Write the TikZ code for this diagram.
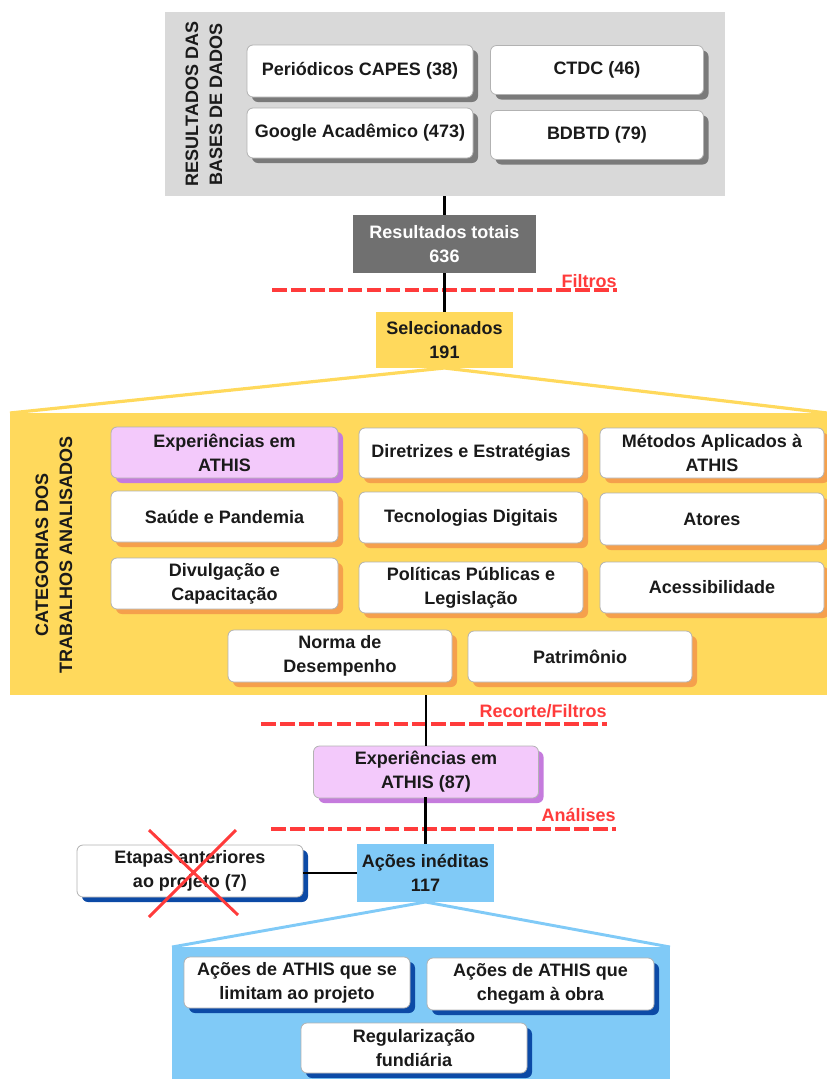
\documentclass[tikz,border=0pt]{standalone}
\usepackage{fontspec}
\setmainfont{Liberation Sans}
\usetikzlibrary{shadows}
\definecolor{txt}{HTML}{1A1A1A}
\definecolor{dbgray}{HTML}{D9D9D9}
\definecolor{shgray}{HTML}{7A7A7A}
\definecolor{resgray}{HTML}{707070}
\definecolor{yel}{HTML}{FFD95C}
\definecolor{orsh}{HTML}{F5A04C}
\definecolor{purf}{HTML}{F3C9FB}
\definecolor{pursh}{HTML}{C57BDD}
\definecolor{lblue}{HTML}{80CAF7}
\definecolor{dblue}{HTML}{0C4AA6}
\definecolor{redl}{HTML}{FF3B3B}
\begin{document}
\begin{tikzpicture}[x=0.75pt,y=-0.75pt,
  font=\fontsize{13.5}{18}\selectfont\bfseries,
  sz/.style 2 args={minimum width=#1*0.75pt, minimum height=#2*0.75pt},
  wbox/.style={draw=black!30, line width=0.6pt, fill=white, rounded corners=4.5pt,
    align=center, inner sep=1pt, text=txt},
  shad/.style={drop shadow={shadow xshift=3.75pt, shadow yshift=-3.75pt, fill=#1, opacity=1}},
  dbbox/.style={wbox, shad=shgray},
  catbox/.style={wbox, shad=orsh},
  purbox/.style={wbox, fill=purf, shad=pursh},
  bluebox/.style={wbox, shad=dblue},
  panel/.style={inner sep=0pt, outer sep=0pt},
  flat/.style={panel, align=center},
  conn/.style={line width=1.9pt, black},
  cut/.style={redl, line width=2.3pt, dash pattern=on 11pt off 3.2pt},
  cutlabel/.style={text=redl, inner sep=0pt, anchor=base east},
  vlabel/.style={rotate=90, align=center, text=txt, inner sep=0pt},
]
\useasboundingbox (0,0) rectangle (827,1079);

% ---------- top: databases ----------
\node[panel, fill=dbgray, sz={560}{184}] (dbs) at (445,104) {};
\node[vlabel] (dbl) at (204,104) {RESULTADOS DAS\\BASES DE DADOS};
\node[dbbox, sz={226}{52}] (capes) at (360,71) {Periódicos CAPES (38)};
\node[dbbox, sz={213}{49}] (ctdc) at (597,70) {CTDC (46)};
\node[dbbox, sz={226}{50}] (google) at (360,133) {Google Acadêmico (473)};
\node[dbbox, sz={213}{49}] (bdbtd) at (597,135) {BDBTD (79)};

\node[flat, fill=resgray, text=white, sz={183}{58}] (res) at (444.5,244) {Resultados totais\\636};

% Filtros cut
\coordinate (f1) at (272,290);
\coordinate (f2) at (617,290);
\draw[cut] (f1) -- (f2);
\node[cutlabel] (flab) at (617,287) {Filtros};

\node[flat, fill=yel, text=txt, sz={137}{56}] (sel) at (444.5,340) {Selecionados\\191};

\draw[conn] (res.north) -- (res.north |- dbs.south);
\draw[conn] (res.south) -- (sel.north);

% ---------- categories ----------
\node[panel, fill=yel, sz={817}{282}] (cat) at (418.5,554) {};
\draw[yel, line width=2.4pt] (cat.north west) -- (sel.south) -- (cat.north east);
\node[vlabel] (catl) at (54,555) {CATEGORIAS DOS\\TRABALHOS ANALISADOS};

\node[purbox, sz={227}{51}] (c1) at (224.5,452.5) {Experiências em\\ATHIS};
\node[catbox, sz={224}{50}] (c2) at (471,453) {Diretrizes e Estratégias};
\node[catbox, sz={224}{50}] (c3) at (712,453) {Métodos Aplicados à\\ATHIS};
\node[catbox, sz={227}{51}] (c4) at (224.5,516.5) {Saúde e Pandemia};
\node[catbox, sz={224}{51}] (c5) at (471,517.5) {Tecnologias Digitais};
\node[catbox, sz={224}{52}] (c6) at (712,519) {Atores};
\node[catbox, sz={227}{51}] (c7) at (224.5,583.5) {Divulgação e\\Capacitação};
\node[catbox, sz={224}{51}] (c8) at (471,587.5) {Políticas Públicas e\\Legislação};
\node[catbox, sz={224}{51}] (c9) at (712,587.5) {Acessibilidade};
\node[catbox, sz={224}{52}] (c10) at (340,656) {Norma de\\Desempenho};
\node[catbox, sz={224}{51}] (c11) at (580,656.5) {Patrimônio};

% ---------- experiences ----------
\coordinate (r1) at (261,724);
\coordinate (r2) at (607,724);
\draw[cut] (r1) -- (r2);
\node[cutlabel] (rlab) at (607,717) {Recorte/Filtros};

\node[purbox, sz={225}{52}] (exp) at (426,772) {Experiências em\\ATHIS (87)};
\draw[conn] (exp.north) -- (exp.north |- cat.south);

\coordinate (a1) at (271,829);
\coordinate (a2) at (616,829);
\draw[cut] (a1) -- (a2);
\node[cutlabel] (alab) at (616,821) {Análises};

\node[flat, fill=lblue, text=txt, sz={137}{58}] (acoes) at (425.5,873) {Ações inéditas\\117};
\draw[conn] (exp.south) -- (exp.south -| acoes.north) -- (acoes.north);

\node[bluebox, sz={226}{52}] (etapas) at (190,871) {Etapas anteriores\\ao projeto (7)};
\draw[conn] (etapas.east |- acoes.west) -- (acoes.west);

% red cross
\coordinate (x1) at (149,830);
\coordinate (x2) at (238,915);
\coordinate (x3) at (236,830);
\coordinate (x4) at (149,917);
\draw[redl, line width=2.2pt] (x1) -- (x2) (x3) -- (x4);

% ---------- actions ----------
\node[panel, fill=lblue, sz={498}{140}] (act) at (421,1017) {};
\draw[lblue, line width=2.2pt] (act.north west) -- (acoes.south) -- (act.north east);

\node[bluebox, sz={226}{51}] (lim) at (297,982.5) {Ações de ATHIS que se\\limitam ao projeto};
\node[bluebox, sz={227}{52}] (che) at (540.5,984) {Ações de ATHIS que\\chegam à obra};
\node[bluebox, sz={226}{50}] (reg) at (414,1048) {Regularização\\fundiária};
\end{tikzpicture}
\end{document}
